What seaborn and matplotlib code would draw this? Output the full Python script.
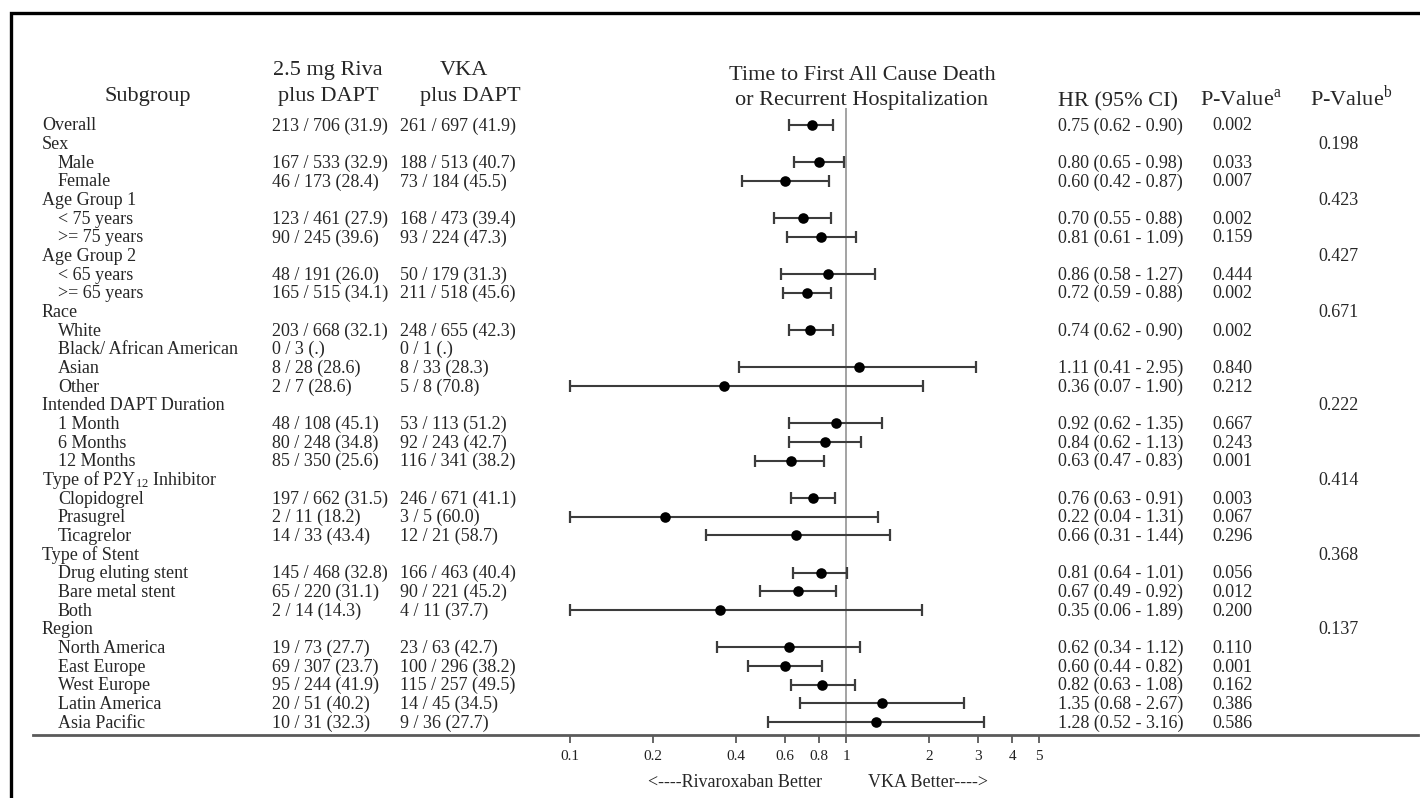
import numpy as np
import pandas as pd
import seaborn as sns
import matplotlib.pyplot as plt
import matplotlib.transforms as mtransforms
from matplotlib.patches import Rectangle

# ---- data ----
subgroups = ["Overall", "Sex", "Male", "Female", "Age Group 1", "< 75 years", ">= 75 years",
             "Age Group 2", "< 65 years", ">= 65 years", "Race", "White", "Black/ African American",
             "Asian", "Other", "Intended DAPT Duration", "1 Month", "6 Months", "12 Months",
             "Type of P2Y$\\mathregular{_{12}}$ Inhibitor", "Clopidogrel", "Prasugrel", "Ticagrelor",
             "Type of Stent", "Drug eluting stent", "Bare metal stent", "Both", "Region",
             "North America", "East Europe", "West Europe", "Latin America", "Asia Pacific"]
is_header = [1, 1, 0, 0, 1, 0, 0, 1, 0, 0, 1, 0, 0, 0, 0, 1, 0, 0, 0, 1, 0, 0, 0, 1, 0, 0, 0, 1,
             0, 0, 0, 0, 0]
riva = ["213 / 706 (31.9)", "", "167 / 533 (32.9)", "46 / 173 (28.4)", "", "123 / 461 (27.9)",
        "90 / 245 (39.6)", "", "48 / 191 (26.0)", "165 / 515 (34.1)", "", "203 / 668 (32.1)",
        "0 / 3 (.)", "8 / 28 (28.6)", "2 / 7 (28.6)", "", "48 / 108 (45.1)", "80 / 248 (34.8)",
        "85 / 350 (25.6)", "", "197 / 662 (31.5)", "2 / 11 (18.2)", "14 / 33 (43.4)", "",
        "145 / 468 (32.8)", "65 / 220 (31.1)", "2 / 14 (14.3)", "", "19 / 73 (27.7)",
        "69 / 307 (23.7)", "95 / 244 (41.9)", "20 / 51 (40.2)", "10 / 31 (32.3)"]
vka = ["261 / 697 (41.9)", "", "188 / 513 (40.7)", "73 / 184 (45.5)", "", "168 / 473 (39.4)",
       "93 / 224 (47.3)", "", "50 / 179 (31.3)", "211 / 518 (45.6)", "", "248 / 655 (42.3)",
       "0 / 1 (.)", "8 / 33 (28.3)", "5 / 8 (70.8)", "", "53 / 113 (51.2)", "92 / 243 (42.7)",
       "116 / 341 (38.2)", "", "246 / 671 (41.1)", "3 / 5 (60.0)", "12 / 21 (58.7)", "",
       "166 / 463 (40.4)", "90 / 221 (45.2)", "4 / 11 (37.7)", "", "23 / 63 (42.7)",
       "100 / 296 (38.2)", "115 / 257 (49.5)", "14 / 45 (34.5)", "9 / 36 (27.7)"]
nan = np.nan
hr = [0.75, nan, 0.80, 0.60, nan, 0.70, 0.81, nan, 0.86, 0.72, nan, 0.74, nan, 1.11, 0.36, nan,
      0.92, 0.84, 0.63, nan, 0.76, 0.22, 0.66, nan, 0.81, 0.67, 0.35, nan, 0.62, 0.60, 0.82, 1.35, 1.28]
lo = [0.62, nan, 0.65, 0.42, nan, 0.55, 0.61, nan, 0.58, 0.59, nan, 0.62, nan, 0.41, 0.07, nan,
      0.62, 0.62, 0.47, nan, 0.63, 0.04, 0.31, nan, 0.64, 0.49, 0.06, nan, 0.34, 0.44, 0.63, 0.68, 0.52]
hi = [0.90, nan, 0.98, 0.87, nan, 0.88, 1.09, nan, 1.27, 0.88, nan, 0.90, nan, 2.95, 1.90, nan,
      1.35, 1.13, 0.83, nan, 0.91, 1.31, 1.44, nan, 1.01, 0.92, 1.89, nan, 1.12, 0.82, 1.08, 2.67, 3.16]
p_a = ["0.002", "", "0.033", "0.007", "", "0.002", "0.159", "", "0.444", "0.002", "", "0.002", "",
       "0.840", "0.212", "", "0.667", "0.243", "0.001", "", "0.003", "0.067", "0.296", "", "0.056",
       "0.012", "0.200", "", "0.110", "0.001", "0.162", "0.386", "0.586"]
p_b = ["", "0.198", "", "", "0.423", "", "", "0.427", "", "", "0.671", "", "", "", "", "0.222", "",
       "", "", "0.414", "", "", "", "0.368", "", "", "", "0.137", "", "", "", "", ""]
ticks = [0.1, 0.2, 0.4, 0.6, 0.8, 1, 2, 3, 4, 5]
tick_labels = ["0.1", "0.2", "0.4", "0.6", "0.8", "1", "2", "3", "4", "5"]

df = pd.DataFrame({"row": np.arange(len(subgroups)), "hr": hr, "lo": lo, "hi": hi})
df["lo_c"] = df["lo"].clip(lower=0.1)

sns.set_theme(style="white")
plt.rcParams["font.family"] = ["Liberation Serif", "DejaVu Serif"]
plt.rcParams["mathtext.fontset"] = "custom"
plt.rcParams["mathtext.rm"] = "Liberation Serif"

W, H = 1420, 798
fig = plt.figure(figsize=(W / 100, H / 100), dpi=100)


def fx(x):
    return x / W


def fy(y):
    return 1 - y / H


# forest axes: x=1 at px 846, one decade = 276 px
x_left, x_right, y_top, y_bot = 33, 1418, 108, 735
row0, step = 124.7, 18.66
ax = fig.add_axes([fx(x_left), fy(y_bot), (x_right - x_left) / W, (y_bot - y_top) / H])
ax.set_xscale("log")
ax.set_xlim(10 ** ((x_left - 846) / 276), 10 ** ((x_right - 846) / 276))
ax.set_ylim((y_bot - row0) / step, (y_top - row0) / step)

ax.axvline(1, color="#8a8a8a", lw=1.1, zorder=1)
ok = df.dropna()
ax.errorbar(ok["hr"], ok["row"], xerr=[ok["hr"] - ok["lo_c"], ok["hi"] - ok["hr"]],
            fmt="none", ecolor="#3c3c3c", elinewidth=1.5, capsize=4.3, capthick=1.6, zorder=2)
sns.scatterplot(data=ok, x="hr", y="row", color="black", s=58, edgecolor="black",
                linewidth=0, zorder=3, ax=ax, legend=False)

for s in ["top", "left", "right"]:
    ax.spines[s].set_visible(False)
ax.spines["bottom"].set_color("#5a5a5a")
ax.spines["bottom"].set_linewidth(2)
ax.set_xticks(ticks)
ax.set_xticklabels(tick_labels, fontsize=11)
ax.xaxis.set_minor_locator(plt.NullLocator())
ax.tick_params(axis="x", direction="out", length=6, width=1.3, color="#5a5a5a", pad=5,
               labelcolor="#222222", bottom=True)
ax.set_yticks([])
ax.set_xlabel("")
ax.set_ylabel("")
ax.patch.set_alpha(0)

# text columns (baseline sits ~0.3 row below the row centre)
tr = mtransforms.blended_transform_factory(fig.transFigure, ax.transData)
fs = 13
bl = 0.31
for i, name in enumerate(subgroups):
    x0 = 42 if is_header[i] else 58
    ax.text(fx(x0), i + bl, name, transform=tr, fontsize=fs, va="baseline", ha="left")
    ax.text(fx(272), i + bl, riva[i], transform=tr, fontsize=fs, va="baseline")
    ax.text(fx(400), i + bl, vka[i], transform=tr, fontsize=fs, va="baseline")
    if not np.isnan(hr[i]):
        ax.text(fx(1058), i + bl, "%.2f (%.2f - %.2f)" % (hr[i], lo[i], hi[i]), transform=tr,
                fontsize=fs, va="baseline")
    ax.text(fx(1212), i + bl, p_a[i], transform=tr, fontsize=fs, va="baseline")
    ax.text(fx(1318), i + bl, p_b[i], transform=tr, fontsize=fs, va="baseline")

# headers
hfs = 16
fig.text(fx(148), fy(101), "Subgroup", fontsize=hfs, ha="center", va="baseline")
fig.text(fx(328), fy(75), "2.5 mg Riva", fontsize=hfs, ha="center", va="baseline")
fig.text(fx(328), fy(101), "plus DAPT", fontsize=hfs, ha="center", va="baseline")
fig.text(fx(464), fy(75), "VKA", fontsize=hfs, ha="center", va="baseline")
fig.text(fx(470), fy(101), "plus DAPT", fontsize=hfs, ha="center", va="baseline")
fig.text(fx(862), fy(80), "Time to First All Cause Death", fontsize=hfs, ha="center",
         va="baseline")
fig.text(fx(862), fy(105), "or Recurrent Hospitalization", fontsize=hfs, ha="center",
         va="baseline")
fig.text(fx(1058), fy(106), "HR (95% CI)", fontsize=hfs, ha="left", va="baseline")
fig.text(fx(1200), fy(106), "P-Value$^{\\mathregular{a}}$", fontsize=hfs, ha="left",
         va="baseline")
fig.text(fx(1310), fy(106), "P-Value$^{\\mathregular{b}}$", fontsize=hfs, ha="left",
         va="baseline")

fig.text(fx(822), fy(787), "<----Rivaroxaban Better", fontsize=fs, ha="right", va="baseline")
fig.text(fx(868), fy(787), "VKA Better---->", fontsize=fs, ha="left", va="baseline")

# frame around the figure (cropped at right and bottom)
fig.add_artist(Rectangle((fx(10.5), -0.1), 1.2, fy(12.5) + 0.1, transform=fig.transFigure,
                         fill=False, edgecolor="black", lw=2.4))

fig.savefig("out.png", dpi=100)
